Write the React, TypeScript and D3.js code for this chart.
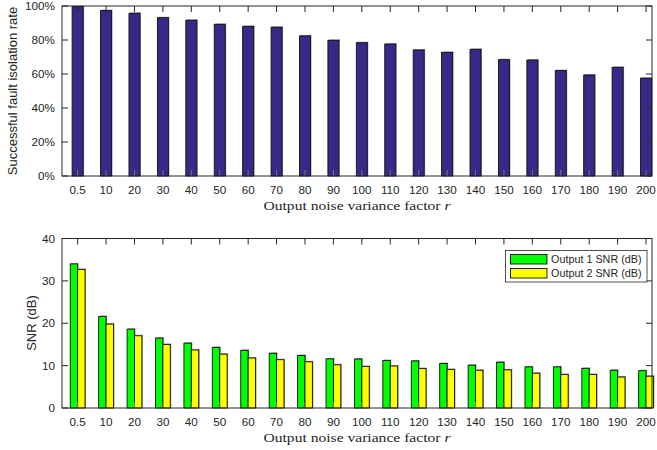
import React from "react";
import * as d3 from "d3";

const categories = ["0.5","10","20","30","40","50","60","70","80","90","100","110","120","130","140","150","160","170","180","190","200"];
const isolationRate = [99.6, 97.3, 95.7, 93.1, 91.6, 89.2, 88.0, 87.5, 82.4, 79.8, 78.4, 77.6, 74.1, 72.7, 74.5, 68.4, 68.2, 62.0, 59.4, 63.9, 57.5];
const snrOutput1 = [34.0, 21.6, 18.6, 16.5, 15.3, 14.3, 13.6, 12.9, 12.4, 11.6, 11.55, 11.2, 11.1, 10.5, 10.1, 10.8, 9.7, 9.7, 9.35, 8.9, 8.8];
const snrOutput2 = [32.7, 19.8, 17.05, 15.0, 13.7, 12.7, 11.8, 11.4, 10.9, 10.2, 9.8, 9.9, 9.3, 9.1, 8.9, 9.0, 8.2, 7.9, 7.9, 7.3, 7.5];
const rateTicks = [0, 20, 40, 60, 80, 100];
const snrTicks = [0, 10, 20, 30, 40];
const seriesNames = ["Output 1 SNR (dB)", "Output 2 SNR (dB)"];

const AX = "#262626";
const NAVY = "#352A87";
const GREEN = "#00FF00";
const YELLOW = "#FFFF00";
const SANS = "Liberation Sans, Arial, sans-serif";
const SERIF = "Liberation Serif, Times New Roman, serif";

const L = 62, R = 652;
const x = d3.scaleLinear().domain([-0.55, 20.21]).range([L, R]);
const yTop = d3.scaleLinear().domain([0, 100]).range([176, 6]);
const yBot = d3.scaleLinear().domain([0, 40]).range([408, 238.5]);

function Bar({ x0, x1, y0, y1, fill }: any) {
  const w = x1 - x0;
  const h = y1 - y0;
  return (
    <g>
      <rect x={x0 + 1} y={y0 - 1} width={w} height={h + 1} fill="#9a9a9a" />
      <rect x={x0} y={y0} width={w} height={h} fill={fill} stroke="#111" strokeWidth={0.9} />
    </g>
  );
}

function Frame({ y, ticks, fmt, top, bottom }: any) {
  const tl = 6;
  return (
    <g>
      {categories.map((c, i) => (
        <g key={c}>
          <line x1={x(i)} x2={x(i)} y1={top} y2={top + tl} stroke={AX} strokeWidth={1} />
          <line x1={x(i)} x2={x(i)} y1={bottom} y2={bottom - tl} stroke="#777" strokeWidth={1} />
          <text x={x(i)} y={bottom + 18} textAnchor="middle" fontFamily={SANS} fontSize={11.7} fill={AX}>{c}</text>
        </g>
      ))}
      {ticks.map((t: number) => (
        <g key={t}>
          <line x1={L} x2={L + tl} y1={y(t)} y2={y(t)} stroke={AX} strokeWidth={1} />
          <line x1={R} x2={R - tl} y1={y(t)} y2={y(t)} stroke={AX} strokeWidth={1} />
          <text x={L - 7} y={y(t)} dy="0.35em" textAnchor="end" fontFamily={SANS} fontSize={11.7} fill={AX}>{fmt(t)}</text>
        </g>
      ))}
      <rect x={L} y={top} width={R - L} height={bottom - top} fill="none" stroke={AX} strokeWidth={1} />
      <text x={357} y={bottom + 34} textAnchor="middle" fontFamily={SERIF} fontSize={12.5} fill={AX} textLength={187} lengthAdjust="spacingAndGlyphs">
        Output noise variance factor <tspan fontStyle="italic">r</tspan>
      </text>
    </g>
  );
}

export default function App() {
  const wTop = 0.387;
  const wBot = 0.26;
  return (
    <svg width={657} height={450} style={{ position: "absolute", left: 0, top: 0, background: "#fff" }}>
      <rect x={0} y={0} width={657} height={450} fill="#fff" />
      {/* Top chart */}
      {isolationRate.map((v, i) => (
        <Bar key={i} x0={x(i - wTop / 2)} x1={x(i + wTop / 2)} y0={yTop(v)} y1={yTop(0)} fill={NAVY} />
      ))}
      <Frame y={yTop} ticks={rateTicks} fmt={(t: number) => `${t}%`} top={6} bottom={176} />
      <text transform={`translate(17,91) rotate(-90)`} textAnchor="middle" fontFamily={SANS} fontSize={13} fill={AX}>
        Successful fault isolation rate
      </text>

      {/* Bottom chart */}
      {snrOutput1.map((v, i) => (
        <Bar key={"a" + i} x0={x(i - wBot)} x1={x(i)} y0={yBot(v)} y1={yBot(0)} fill={GREEN} />
      ))}
      {snrOutput2.map((v, i) => (
        <Bar key={"b" + i} x0={x(i)} x1={x(i + wBot)} y0={yBot(v)} y1={yBot(0)} fill={YELLOW} />
      ))}
      <Frame y={yBot} ticks={snrTicks} fmt={(t: number) => `${t}`} top={238.5} bottom={408} />
      <text transform={`translate(36,323) rotate(-90)`} textAnchor="middle" fontFamily={SANS} fontSize={13} fill={AX}>
        SNR (dB)
      </text>

      {/* Legend */}
      <g>
        <rect x={505.5} y={250.5} width={141.5} height={31.5} fill="#fff" stroke={AX} strokeWidth={0.8} />
        {seriesNames.map((n, k) => (
          <g key={n}>
            <rect x={510.5} y={254.5 + k * 14} width={36.5} height={9.5} fill={k === 0 ? GREEN : YELLOW} stroke="#111" strokeWidth={0.9} />
            <text x={551} y={259.5 + k * 14} dy="0.35em" fontFamily={SANS} fontSize={10.8} fill={AX}>{n}</text>
          </g>
        ))}
      </g>
    </svg>
  );
}
